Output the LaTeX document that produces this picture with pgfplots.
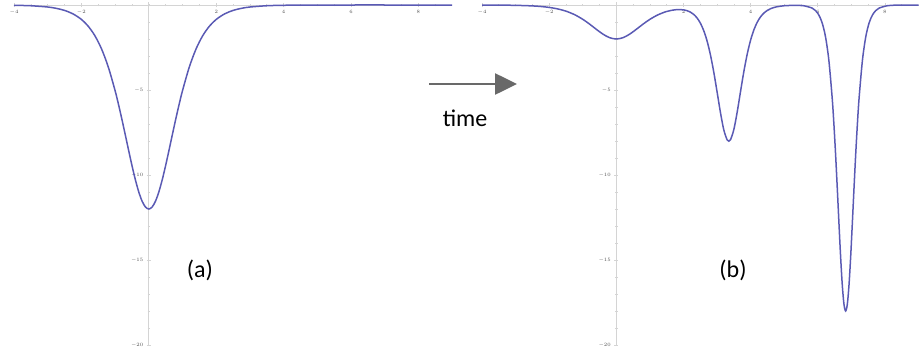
\documentclass[border=0pt]{standalone}
\usepackage{fontspec}
\setmainfont{Carlito}
\usepackage{pgfplots}
\pgfplotsset{compat=1.18}
\usetikzlibrary{arrows.meta}
\definecolor{curve}{RGB}{90,90,180}
\definecolor{axgray}{RGB}{212,212,212}
\definecolor{tickgray}{RGB}{80,80,80}
\definecolor{arrowgray}{RGB}{105,105,105}
\pgfplotsset{solstyle/.style={
  scale only axis, axis lines=middle, axis line style={-, axgray, line width=0.8pt},
  xmin=-4, xmax=9, ymin=-20, ymax=0.2, height=343.4pt,
  xtick={-4,-2,2,4,6,8}, ytick={-20,-15,-10,-5},
  minor xtick={-3.5,-3,...,8.5}, minor ytick={-19,-18,...,-1},
  tick style={axgray, line width=0.6pt}, major tick length=4pt, minor tick length=2.5pt, tick align=center,
  ticklabel style={font=\fontsize{5}{6}\selectfont, text=tickgray},
  clip=false,
}}
\begin{document}
\begin{tikzpicture}
\useasboundingbox (0,0) rectangle (924pt,-354pt);
\begin{axis}[solstyle, width=438.1pt, at={(14pt,-345pt)}, anchor=south west]
\addplot[curve, line width=1.5pt, smooth] coordinates {
(-4,-0.016) (-3.5,-0.044) (-3,-0.118) (-2.75,-0.195) (-2.5,-0.319) (-2.25,-0.522) (-2,-0.848) (-1.8,-1.243) (-1.6,-1.806) (-1.4,-2.594) (-1.2,-3.660) (-1,-5.040) (-0.9,-5.843) (-0.8,-6.709) (-0.7,-7.617) (-0.6,-8.539) (-0.5,-9.437) (-0.4,-10.268) (-0.3,-10.982) (-0.2,-11.533) (-0.1,-11.881) (0,-12)
(0.1,-11.881) (0.2,-11.533) (0.3,-10.982) (0.4,-10.268) (0.5,-9.437) (0.6,-8.539) (0.7,-7.617) (0.8,-6.709) (0.9,-5.843) (1,-5.040) (1.2,-3.660) (1.4,-2.594) (1.6,-1.806) (1.8,-1.243) (2,-0.848) (2.25,-0.522) (2.5,-0.319) (2.75,-0.195) (3,-0.118) (3.5,-0.044) (4,-0.016) (5,-0.002) (6,0) (7.5,0) (9,0)
};
\end{axis}
\begin{axis}[solstyle, width=436.5pt, at={(482pt,-345pt)}, anchor=south west]
\addplot[curve, line width=1.5pt, smooth] coordinates {
(-4,-0.003) (-3.5,-0.0073) (-3,-0.0197) (-2.5,-0.0532) (-2.25,-0.0869) (-2,-0.1413) (-1.75,-0.2276) (-1.5,-0.3614) (-1.25,-0.5608) (-1,-0.8399) (-0.8,-1.1181) (-0.6,-1.4232) (-0.4,-1.7113) (-0.2,-1.9221) (0,-2.0)
(0.2,-1.922) (0.4,-1.712) (0.6,-1.424) (0.8,-1.119) (1.0,-0.843) (1.25,-0.568) (1.5,-0.381) (1.75,-0.281) (2.0,-0.2845) (2.1,-0.329) (2.2,-0.411) (2.3,-0.545) (2.4,-0.750) (2.5,-1.053) (2.6,-1.489) (2.7,-2.095) (2.8,-2.903) (2.9,-3.919) (3.0,-5.098) (3.1,-6.308) (3.2,-7.334) (3.3,-7.931) (3.35,-8.010) (3.4,-7.929) (3.5,-7.328) (3.6,-6.298) (3.7,-5.083) (3.8,-3.899) (3.9,-2.877) (4.0,-2.062) (4.1,-1.448) (4.2,-1.002) (4.3,-0.687) (4.4,-0.467) (4.5,-0.316) (4.6,-0.213) (4.75,-0.118) (5.0,-0.044) (5.33,-0.021) (5.58,-0.044) (5.83,-0.180) (5.93,-0.323) (6.03,-0.583) (6.13,-1.048) (6.23,-1.864) (6.33,-3.253) (6.43,-5.490) (6.48,-6.998) (6.53,-8.765) (6.58,-10.739) (6.63,-12.808) (6.68,-14.796) (6.73,-16.472) (6.78,-17.601) (6.83,-18)
(6.88,-17.601) (6.93,-16.472) (6.98,-14.796) (7.03,-12.808) (7.08,-10.739) (7.13,-8.765) (7.18,-6.998) (7.23,-5.490) (7.33,-3.253) (7.43,-1.864) (7.53,-1.048) (7.63,-0.583) (7.73,-0.322) (7.83,-0.178) (8.08,-0.040) (8.33,-0.009) (8.6,-0.002) (9,0)
};
\end{axis}
\draw[arrowgray, line width=2.6pt, -{Triangle[length=22pt,width=21pt]}] (429pt,-84pt) -- (517pt,-84pt);
\node[font=\fontsize{24}{28}\selectfont] at (465pt,-118pt) {time};
\node[font=\fontsize{24}{28}\selectfont] at (200pt,-270pt) {(a)};
\node[font=\fontsize{24}{28}\selectfont] at (733pt,-270pt) {(b)};
\end{tikzpicture}
\end{document}
